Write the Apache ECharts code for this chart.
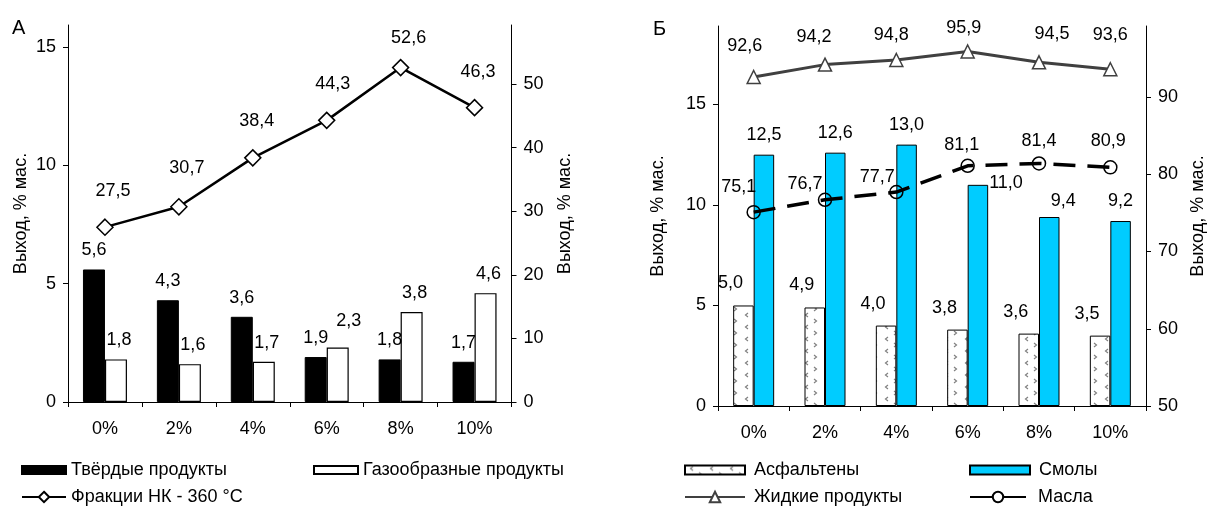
<!DOCTYPE html>
<html><head><meta charset="utf-8">
<script src="https://cdn.jsdelivr.net/npm/echarts@6/dist/echarts.min.js"></script>
<style>html,body{margin:0;padding:0;background:#fff}#c{width:1208px;height:507px}</style>
</head><body><div id="c"></div>
<script>
// ---- data ----
const categories = ['0%', '2%', '4%', '6%', '8%', '10%'];
const solidProducts = [5.6, 4.3, 3.6, 1.9, 1.8, 1.7];
const gasProducts = [1.8, 1.6, 1.7, 2.3, 3.8, 4.6];
const fractionNK360 = [27.5, 30.7, 38.4, 44.3, 52.6, 46.3];
const asphaltenes = [5.0, 4.9, 4.0, 3.8, 3.6, 3.5];
const resins = [12.5, 12.6, 13.0, 11.0, 9.4, 9.2];
const liquidProducts = [92.6, 94.2, 94.8, 95.9, 94.5, 93.6];
const oils = [75.1, 76.7, 77.7, 81.1, 81.4, 80.9];
const leftTicksA = [0, 5, 10, 15];
const rightTicksA = [0, 10, 20, 30, 40, 50];
const leftTicksB = [0, 5, 10, 15];
const rightTicksB = [50, 60, 70, 80, 90];
const axisTitle = 'Выход, % мас.';

// ---- styles ----
const FONT = 'Liberation Sans, Arial, sans-serif';
const FS = 18;
const fmt = p => Number(p.value).toFixed(1).replace('.', ',');
// value-label placement (pixel shifts of the text relative to each point), as in the original figure
const fracLabelShift = [[8, -36], [8, -39], [4, -36.5], [6, -36], [8, -30], [3.5, -36]];
const liquidLabelShift = [[-9, -31], [-11, -28], [-5, -25], [-4, -23], [13, -28], [0, -34]];
const oilLabelShift = [[-15, -25], [-20, -16], [-19, -15], [-6, -21], [0, -22], [-2, -26]];

function makePattern() {
  const c = document.createElement('canvas');
  c.width = 20; c.height = 12;
  const g = c.getContext('2d');
  g.fillStyle = '#fff'; g.fillRect(0, 0, 20, 12);
  g.strokeStyle = '#808080'; g.lineWidth = 1.2;
  g.beginPath(); g.moveTo(8, 1); g.lineTo(5.5, 3); g.lineTo(8, 5); g.stroke();
  g.beginPath(); g.moveTo(14, 7); g.lineTo(16.5, 9); g.lineTo(14, 11); g.stroke();
  return c;
}
const pattern = { image: makePattern(), repeat: 'repeat' };

function xAxis(gi) {
  return {
    type: 'category', gridIndex: gi, data: categories, boundaryGap: true,
    axisLine: { lineStyle: { color: '#000', width: 1 } },
    axisTick: { show: true, length: 5, lineStyle: { color: '#000' } },
    axisLabel: { color: '#000', fontSize: FS, fontFamily: FONT, margin: 18 },
    splitLine: { show: false }
  };
}
function yAxis(gi, pos, min, max, interval, ticks, nameGap) {
  return {
    type: 'value', gridIndex: gi, position: pos, min: min, max: max, interval: interval,
    axisLine: { show: true, lineStyle: { color: '#000', width: 1 } },
    axisTick: { show: true, length: 5, lineStyle: { color: '#000' }, customValues: ticks },
    axisLabel: { color: '#000', fontSize: FS, fontFamily: FONT, margin: 12, customValues: ticks },
    splitLine: { show: false },
    name: axisTitle, nameLocation: 'middle', nameRotate: 90, nameGap: nameGap,
    nameTextStyle: { color: '#000', fontSize: FS, fontFamily: FONT }
  };
}
const labelBase = { show: true, color: '#000', fontSize: FS, fontFamily: FONT, formatter: fmt };
const withShift = (values, shifts) => values.map((v, i) => ({ value: v, label: { offset: shifts[i] } }));

function legend(name, left, top, w, h, icon, padLeft, extra) {
  const item = Object.assign({ name: name }, extra || {});
  if (icon) item.icon = icon;
  return {
    data: [item], left: left, top: top, itemWidth: w, itemHeight: h,
    selectedMode: false, padding: 0, itemGap: 0,
    textStyle: { color: '#000', fontSize: FS, fontFamily: FONT, padding: [0, 0, 0, padLeft || 0] }
  };
}

const option = {
  animation: false,
  backgroundColor: '#fff',
  textStyle: { fontFamily: FONT },
  grid: [
    { left: 68, top: 25, width: 443.5, height: 377 },
    { left: 718, top: 26, width: 428.5, height: 380 }
  ],
  xAxis: [xAxis(0), xAxis(1)],
  yAxis: [
    yAxis(0, 'left', 0, 15.93, 5, leftTicksA, 38),
    yAxis(0, 'right', 0, 59.3, 10, rightTicksA, 45),
    yAxis(1, 'left', 0, 18.9, 5, leftTicksB, 51),
    yAxis(1, 'right', 50, 99.2, 10, rightTicksB, 43)
  ],
  legend: [
    legend('Твёрдые продукты', 21, 461, 44, 8, 'rect', 0),
    legend('Газообразные продукты', 313, 461, 44, 8, 'rect', 0),
    legend('Фракции НК - 360 °C', 21, 488, 44, 13, null, 0),
    legend('Асфальтены', 684, 461, 60, 9, 'rect', 4),
    legend('Смолы', 969, 461, 60, 9, 'rect', 4),
    legend('Жидкие продукты', 684, 488, 60, 13, null, 4, { lineStyle: { type: 'solid' } }),
    legend('Масла', 969, 488, 56, 13, null, 7, { lineStyle: { type: 'solid' }, itemStyle: { color: '#fff' } })
  ],
  graphic: [
    { type: 'text', left: 12, top: 18, style: { text: 'А', fontSize: 20, fill: '#000', fontFamily: FONT } },
    { type: 'text', left: 653, top: 19, style: { text: 'Б', fontSize: 20, fill: '#000', fontFamily: FONT } }
  ],
  series: [
    {
      name: 'Твёрдые продукты', type: 'bar', xAxisIndex: 0, yAxisIndex: 0, data: solidProducts,
      barWidth: 22, barGap: '0%',
      itemStyle: { color: '#000', borderColor: '#000', borderWidth: 1 },
      label: Object.assign({}, labelBase, { position: 'top', distance: 10 })
    },
    {
      name: 'Газообразные продукты', type: 'bar', xAxisIndex: 0, yAxisIndex: 0,
      data: gasProducts.map((v, i) => i === 3 ? { value: v, label: { offset: [11, -8] } } : v),
      barWidth: 22, barGap: '0%',
      itemStyle: { color: '#fff', borderColor: '#000', borderWidth: 1.2 },
      label: Object.assign({}, labelBase, { position: 'top', distance: 10, offset: [3, 0] })
    },
    {
      name: 'Фракции НК - 360 °C', type: 'line', xAxisIndex: 0, yAxisIndex: 1,
      data: withShift(fractionNK360, fracLabelShift),
      symbol: 'diamond', symbolSize: 16, z: 5,
      lineStyle: { color: '#000', width: 2.5 },
      itemStyle: { color: '#fff', borderColor: '#000', borderWidth: 1.5 },
      label: Object.assign({}, labelBase, { position: 'inside' })
    },
    {
      name: 'Асфальтены', type: 'bar', xAxisIndex: 1, yAxisIndex: 2, data: asphaltenes,
      barWidth: 20.5, barGap: '0%',
      itemStyle: { color: pattern, borderColor: '#000', borderWidth: 1 },
      label: Object.assign({}, labelBase, { position: 'top', distance: 13, offset: [-13, 0] })
    },
    {
      name: 'Смолы', type: 'bar', xAxisIndex: 1, yAxisIndex: 2,
      data: resins.map((v, i) => i === 3 ? { value: v, label: { position: ['100%', 0], offset: [1, -11] } }
        : i === 4 ? { value: v, label: { offset: [14, 4] } } : v),
      barWidth: 20.5, barGap: '0%',
      itemStyle: { color: '#00CCFF', borderColor: '#000', borderWidth: 1 },
      label: Object.assign({}, labelBase, { position: 'top', distance: 11 })
    },
    {
      name: 'Жидкие продукты', type: 'line', xAxisIndex: 1, yAxisIndex: 3,
      data: withShift(liquidProducts, liquidLabelShift),
      symbol: 'triangle', symbolSize: 13, z: 5,
      lineStyle: { color: '#404040', width: 3 },
      itemStyle: { color: '#fff', borderColor: '#404040', borderWidth: 1.5 },
      label: Object.assign({}, labelBase, { position: 'inside' })
    },
    {
      name: 'Масла', type: 'line', xAxisIndex: 1, yAxisIndex: 3,
      data: withShift(oils, oilLabelShift),
      symbol: 'circle', symbolSize: 13, z: 5,
      lineStyle: { color: '#000', width: 3.5, type: [22, 12] },
      itemStyle: { color: 'transparent', borderColor: '#000', borderWidth: 1.5 },
      label: Object.assign({}, labelBase, { position: 'inside' })
    }
  ]
};

const chart = echarts.init(document.getElementById('c'), null, { renderer: 'canvas' });
chart.setOption(option);
</script>
</body></html>
